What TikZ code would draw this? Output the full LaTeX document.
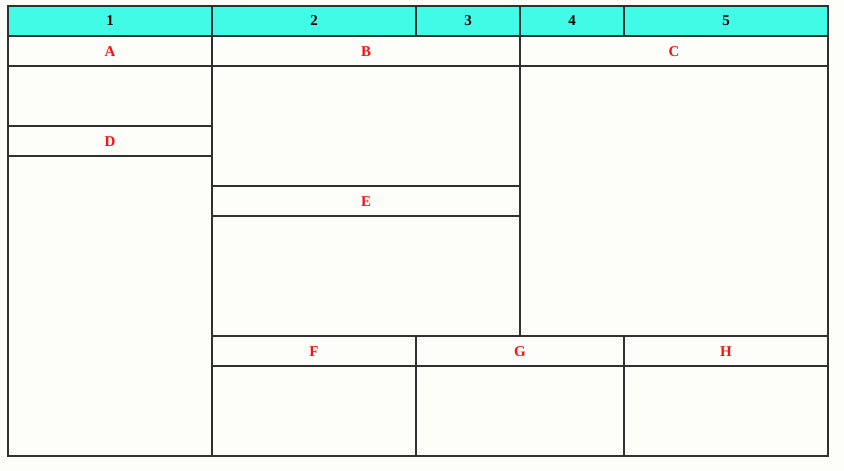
\documentclass[tikz,border=0pt]{standalone}
\usepackage{fontspec}
\setmainfont{Liberation Serif}
\definecolor{hdr}{HTML}{42FBE6}
\definecolor{lbl}{HTML}{FF1010}
\definecolor{bg}{HTML}{FDFDFA}
\definecolor{ln}{HTML}{303030}
\begin{document}
\begin{tikzpicture}[x=1pt,y=-1pt,
  grid/.style={draw=ln,line width=1.6pt},
  hd/.style={font=\bfseries\fontsize{15}{15}\selectfont,text=black,inner sep=0pt},
  lb/.style={font=\bfseries\fontsize{15}{15}\selectfont,text=lbl,inner sep=0pt}]
\fill[bg] (0,0) rectangle (844,471);
\useasboundingbox (0,0) rectangle (844,471);
\fill[hdr] (8,6) rectangle (828,36);
% header labels
\node[hd] (h1) at (110,21) {1};
\node[hd] (h2) at (314,21) {2};
\node[hd] (h3) at (468,21) {3};
\node[hd] (h4) at (572,21) {4};
\node[hd] (h5) at (726,21) {5};
% section labels
\node[lb] (A) at (110,52) {A};
\node[lb] (B) at (366,52) {B};
\node[lb] (C) at (674,52) {C};
\node[lb] (D) at (110,142) {D};
\node[lb] (E) at (366,202) {E};
\node[lb] (F) at (314,352) {F};
\node[lb] (G) at (520,352) {G};
\node[lb] (H) at (726,352) {H};
% grid lines
\draw[grid] (8,6) rectangle (828,456);
\draw[grid] (8,36) -- (828,36);
\draw[grid] (8,66) -- (828,66);
\draw[grid] (8,126) -- (212,126);
\draw[grid] (8,156) -- (212,156);
\draw[grid] (212,186) -- (520,186);
\draw[grid] (212,216) -- (520,216);
\draw[grid] (212,336) -- (828,336);
\draw[grid] (212,366) -- (828,366);
\draw[grid] (212,6) -- (212,456);
\draw[grid] (520,6) -- (520,336);
\draw[grid] (416,6) -- (416,36);
\draw[grid] (624,6) -- (624,36);
\draw[grid] (416,336) -- (416,456);
\draw[grid] (624,336) -- (624,456);
\end{tikzpicture}
\end{document}
